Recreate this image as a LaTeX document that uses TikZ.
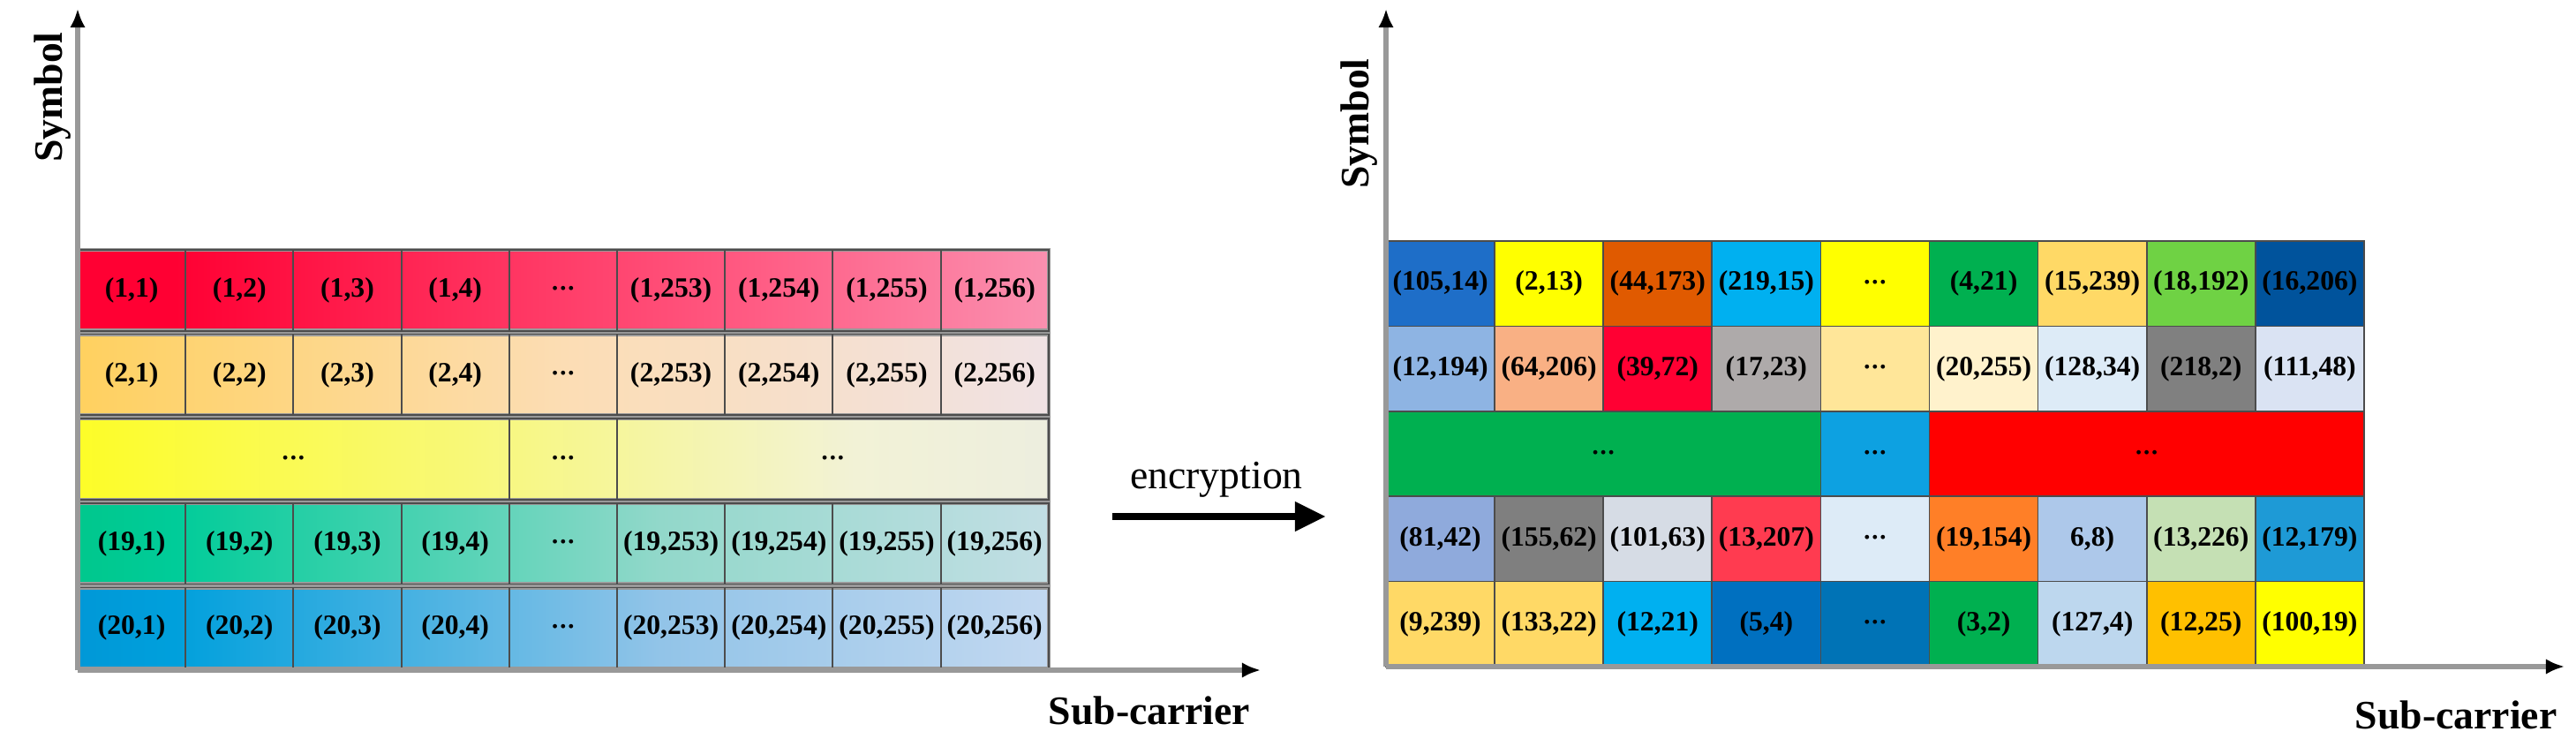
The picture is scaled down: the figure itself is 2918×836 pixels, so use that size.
\documentclass[tikz,border=0pt]{standalone}
\usepackage{fontspec}
\setmainfont{Liberation Serif}
\usetikzlibrary{arrows.meta}
\definecolor{lav}{HTML}{E0E4F4}
\definecolor{rA0}{HTML}{FF0033}\definecolor{rA1}{HTML}{FF5C84}\definecolor{rA2}{HTML}{F8A8C4}
\definecolor{rB0}{HTML}{FFC000}\definecolor{rB1}{HTML}{FFCF55}\definecolor{rB2}{HTML}{FCDDB4}\definecolor{rB3}{HTML}{F0E2E4}
\definecolor{rC0}{HTML}{FFFF00}\definecolor{rC1}{HTML}{F8F878}\definecolor{rC2}{HTML}{F2F2D6}
\definecolor{rD0}{HTML}{00B050}\definecolor{rD1}{HTML}{00CC99}\definecolor{rD2}{HTML}{92D8CA}\definecolor{rD3}{HTML}{C2DEE4}
\definecolor{rE0}{HTML}{0070C0}\definecolor{rE1}{HTML}{00A0DC}\definecolor{rE2}{HTML}{92C4E8}\definecolor{rE3}{HTML}{C2D8F0}
% left grid gradients, one per row
\pgfdeclarehorizontalshading{rowA}{100bp}{color(0bp)=(rA0); color(30bp)=(rA0);
  color(60bp)=(rA1); color(82bp)=(rA2); color(100bp)=(lav)}
\pgfdeclarehorizontalshading{rowB}{100bp}{color(0bp)=(rB0); color(22bp)=(rB1);
  color(50bp)=(rB2); color(75bp)=(rB3); color(100bp)=(lav)}
\pgfdeclarehorizontalshading{rowC}{100bp}{color(0bp)=(rC0); color(15bp)=(rC0);
  color(45bp)=(rC1); color(65bp)=(rC2); color(100bp)=(lav)}
\pgfdeclarehorizontalshading{rowD}{100bp}{color(0bp)=(rD0); color(30bp)=(rD1);
  color(55bp)=(rD2); color(75bp)=(rD3); color(100bp)=(lav)}
\pgfdeclarehorizontalshading{rowE}{100bp}{color(0bp)=(rE0); color(30bp)=(rE1);
  color(55bp)=(rE2); color(75bp)=(rE3); color(100bp)=(lav)}
\newcommand\cdts{{\fontsize{5}{5}\selectfont\textbullet\,\textbullet\,\textbullet}}
\tikzset{
  cell/.style={rectangle, draw=black!70, line width=0.5pt, inner sep=0pt,
    font=\fontsize{9}{10}\selectfont\bfseries},
  rowbox/.style={draw=gray!80, line width=1.2pt},
  axis/.style={draw=gray!80, line width=1.5pt, -{Latex[length=6pt,width=5pt,black]}},
  axlabel/.style={font=\fontsize{13}{14}\selectfont\bfseries}
}
\begin{document}
\begin{tikzpicture}[x=0.01cm,y=-0.01cm]
\useasboundingbox (0,0) rectangle (2918,836);

% ---- plain grid
\foreach \r/\sh in {1/rowA,2/rowB,3/rowC,4/rowD,5/rowE}
  \shade[shading=\sh, rowbox] (88,{281+(\r-1)*95.6+2}) rectangle (1188,{281+\r*95.6-2});
\foreach \r/\lst in {1/{{(1,1)},{(1,2)},{(1,3)},{(1,4)},\cdts,{(1,253)},{(1,254)},{(1,255)},{(1,256)}},
                    2/{{(2,1)},{(2,2)},{(2,3)},{(2,4)},\cdts,{(2,253)},{(2,254)},{(2,255)},{(2,256)}},
                    4/{{(19,1)},{(19,2)},{(19,3)},{(19,4)},\cdts,{(19,253)},{(19,254)},{(19,255)},{(19,256)}},
                    5/{{(20,1)},{(20,2)},{(20,3)},{(20,4)},\cdts,{(20,253)},{(20,254)},{(20,255)},{(20,256)}}}
  \foreach [count=\c] \t in \lst
    \node[cell, minimum width=1.222cm, minimum height=0.916cm]
      (p-\r-\c) at ({88+(\c-0.5)*122.2},{281+(\r-0.5)*95.6}) {\t};
\node[cell, minimum width=4.888cm, minimum height=0.916cm] (p-3-a) at ({88+2*122.2},{281+2.5*95.6}) {\cdts};
\node[cell, minimum width=1.222cm, minimum height=0.916cm] (p-3-b) at ({88+4.5*122.2},{281+2.5*95.6}) {\cdts};
\node[cell, minimum width=4.888cm, minimum height=0.916cm] (p-3-c) at ({88+7*122.2},{281+2.5*95.6}) {\cdts};

% ---- encrypted grid
\foreach \r/\lst in {1/{{(105,14)}/1E6EC8,{(2,13)}/FFFF00,{(44,173)}/E05A00,{(219,15)}/00B0F0,\cdts/FFFF00,{(4,21)}/00B050,{(15,239)}/FFD966,{(18,192)}/6FD244,{(16,206)}/00539C},
                    2/{{(12,194)}/8EB4E3,{(64,206)}/F9B084,{(39,72)}/FF0033,{(17,23)}/AEAAAA,\cdts/FFE699,{(20,255)}/FFF2CC,{(128,34)}/DDEBF7,{(218,2)}/808080,{(111,48)}/DAE3F3},
                    4/{{(81,42)}/8FAADC,{(155,62)}/7F7F7F,{(101,63)}/D6DCE5,{(13,207)}/FF3B50,\cdts/DDEBF7,{(19,154)}/FF7F27,{6,8)}/ADC8EA,{(13,226)}/C5E0B4,{(12,179)}/1E9AD6},
                    5/{{(9,239)}/FFD966,{(133,22)}/FFD966,{(12,21)}/00B0F0,{(5,4)}/0070C0,\cdts/0073B6,{(3,2)}/00B050,{(127,4)}/BDD7EE,{(12,25)}/FFC000,{(100,19)}/FFFF00}}
  \foreach [count=\c] \t/\h in \lst {
    \definecolor{cellc}{HTML}{\h}
    \node[cell, fill=cellc, minimum width=1.231cm, minimum height=0.964cm]
      (q-\r-\c) at ({1570+(\c-0.5)*123.1},{273+(\r-0.5)*96.4}) {\t};
  }
\node[cell, fill=rD0, minimum width=4.924cm, minimum height=0.964cm] (q-3-a) at ({1570+2*123.1},{273+2.5*96.4}) {\cdts};
\node[cell, fill=cyan!70!rE1, minimum width=1.231cm, minimum height=0.964cm] (q-3-b) at ({1570+4.5*123.1},{273+2.5*96.4}) {\cdts};
\node[cell, fill=red, minimum width=4.924cm, minimum height=0.964cm] (q-3-c) at ({1570+7*123.1},{273+2.5*96.4}) {\cdts};

% ---- axes
\coordinate (lo) at (88,759);  \coordinate (ly) at (88,10);  \coordinate (lx) at (1428,759);
\coordinate (ro) at (1570,755); \coordinate (ry) at (1570,10); \coordinate (rx) at (2905,755);
\draw[axis] (lo) -- (ly);
\draw[axis] (lo) -- (lx);
\draw[axis] (ro) -- (ry);
\draw[axis] (ro) -- (rx);
\node[axlabel, rotate=90] (lsym) at (60,110) {Symbol};
\node[axlabel] (lsub) at (1302,805) {Sub-carrier};
\node[axlabel, rotate=90] (rsym) at (1540,140) {Symbol};
\node[axlabel] (rsub) at (2782,810) {Sub-carrier};

% ---- encryption arrow
\coordinate (es) at (1260,585); \coordinate (ee) at (1502,585);
\draw[line width=2.4pt, -{Triangle[length=10pt,width=9pt]}] (es) -- (ee);
\node[font=\fontsize{13}{14}\selectfont] (enc) at (1378,543) {encryption};
\end{tikzpicture}
\end{document}
